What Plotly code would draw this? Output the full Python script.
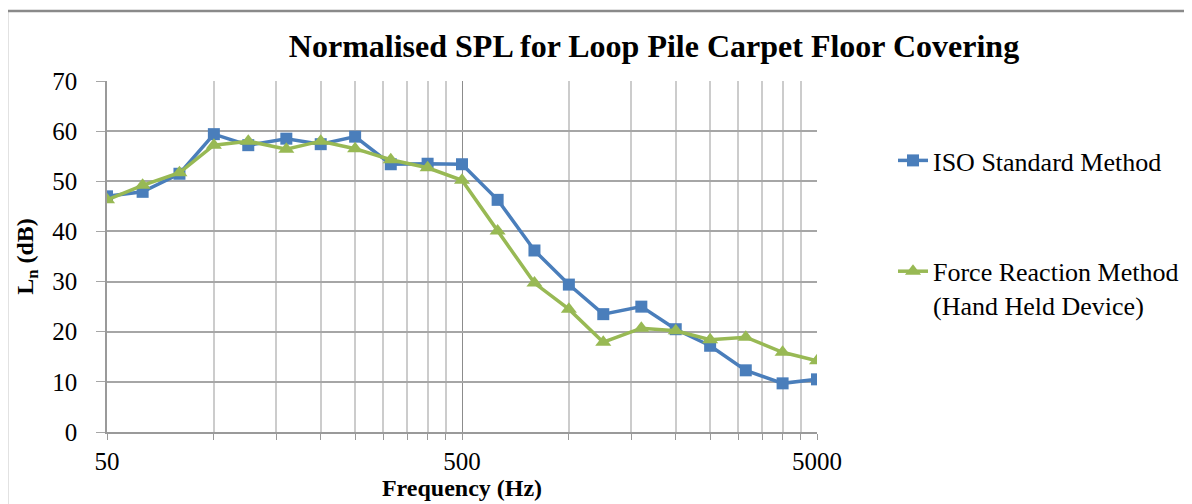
import math
import plotly.graph_objects as go

freq = [50, 63, 80, 100, 125, 160, 200, 250, 315, 400, 500,
        630, 800, 1000, 1250, 1600, 2000, 2500, 3150, 4000, 5000]
iso = [47.0, 47.9, 51.5, 59.4, 57.2, 58.5, 57.4, 58.9, 53.4, 53.5, 53.4,
       46.3, 36.2, 29.4, 23.5, 25.0, 20.5, 17.2, 12.3, 9.7, 10.5]
force = [46.3, 49.2, 51.7, 57.2, 58.0, 56.4, 58.0, 56.5, 54.3, 52.7, 50.2,
         40.1, 29.7, 24.5, 17.9, 20.7, 20.2, 18.4, 18.9, 15.9, 14.2]

x_ticks = [50, 500, 5000]
x_minor = [100, 150, 200, 250, 300, 350, 400, 450,
           1000, 1500, 2000, 2500, 3000, 3500, 4000, 4500]
y_ticks = [0, 10, 20, 30, 40, 50, 60, 70]

FONT = "Liberation Serif"

# page body has an 8px margin: shift everything by -8
OFF = 8
W, H = 1192 - OFF, 504 - OFF
L, T = 107 - OFF, 81 - OFF
PW, PH = 710, 351

def px(xpix):
    return (xpix - OFF - L) / PW

def py(ypix):
    return 1 - (ypix - OFF - T) / PH

fig = go.Figure()
fig.add_trace(go.Scatter(
    x=freq, y=iso, mode="lines+markers", name="ISO Standard Method",
    legendgroup="a",
    line=dict(color="#4A7EBB", width=3.5),
    marker=dict(symbol="square", size=12, color="#4A7EBB"),
))
fig.add_trace(go.Scatter(
    x=freq, y=force, mode="lines+markers",
    name="Force Reaction Method<br>(Hand Held Device)",
    legendgroup="b",
    line=dict(color="#98B954", width=3.5),
    marker=dict(symbol="triangle-up", size=14, color="#98B954"),
))

fig.update_layout(
    width=W, height=H,
    margin=dict(l=L, r=W - L - PW, t=T, b=H - T - PH, autoexpand=False),
    paper_bgcolor="white", plot_bgcolor="white",
    font=dict(family=FONT, color="black", size=25),
    title=dict(text="<b>Normalised SPL for Loop Pile Carpet Floor Covering</b>",
               x=(654 - OFF) / W, xanchor="center", y=1 - (46 - OFF) / H, yanchor="middle",
               font=dict(family=FONT, size=32, color="black")),
    showlegend=True,
    legend=dict(x=px(893), xanchor="left", y=py(137), yanchor="top",
                font=dict(family=FONT, size=26, color="black"),
                traceorder="grouped", tracegroupgap=74, valign="top",
                bgcolor="rgba(0,0,0,0)"),
    xaxis=dict(
        type="log", range=[math.log10(50), math.log10(5000)],
        tickmode="array", tickvals=x_ticks, ticktext=[str(v) for v in x_ticks],
        ticks="outside", ticklen=6, tickcolor="#9a9a9a",
        showgrid=True, gridcolor="#8c8c8c", gridwidth=1,
        showline=True, linecolor="#9a9a9a", linewidth=1.5,
        ticklabelstandoff=0,
        tickfont=dict(family=FONT, size=25),
        minor=dict(tickmode="array", tickvals=x_minor, showgrid=True,
                   gridcolor="#cccccc", gridwidth=1.5,
                   ticks="outside", ticklen=6, tickcolor="#9a9a9a"),
        title=dict(text="<b>Frequency (Hz)</b>", standoff=2,
                   font=dict(family=FONT, size=24)),
        automargin=False, zeroline=False,
    ),
    yaxis=dict(
        range=[0, 70], tickmode="array", tickvals=y_ticks,
        ticks="outside", ticklen=9, tickcolor="#a6a6a6",
        showgrid=True, gridcolor="#a6a6a6", gridwidth=2,
        showline=True, linecolor="#9a9a9a", linewidth=1.5,
        zeroline=False, ticklabelstandoff=14,
        tickfont=dict(family=FONT, size=25),
        title=dict(text="<b>L<sub>n</sub> (dB)</b>", standoff=12,
                   font=dict(family=FONT, size=24)),
        automargin=False,
    ),
    shapes=[dict(type="rect", xref="paper", yref="paper",
                 x0=px(7), x1=px(1300), y0=py(600), y1=py(11),
                 line=dict(color="#8a8a8a", width=2.5), fillcolor="rgba(0,0,0,0)",
                 layer="below")],
)

fig.write_html("out.html")
